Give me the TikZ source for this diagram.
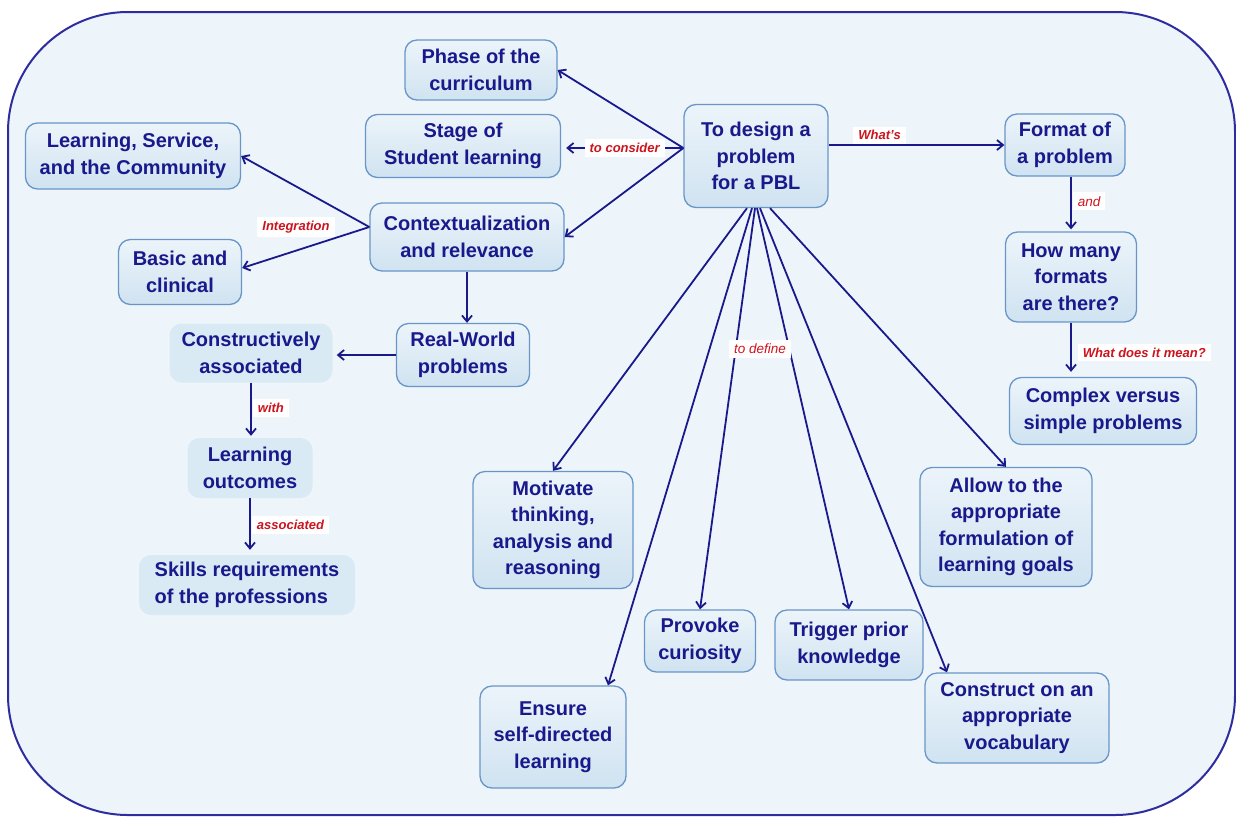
\documentclass[tikz,border=0pt]{standalone}
\usepackage{fontspec}
\setmainfont{Liberation Sans}
\usetikzlibrary{arrows.meta}

\definecolor{navy}{RGB}{25,25,140}
\definecolor{framecol}{RGB}{45,45,160}
\definecolor{bgblue}{RGB}{237,245,250}
\definecolor{boxline}{RGB}{105,150,200}
\definecolor{boxtop}{RGB}{236,244,250}
\definecolor{boxbot}{RGB}{208,227,241}
\definecolor{boxfill}{RGB}{218,234,245}
\definecolor{lblred}{RGB}{205,20,30}

\tikzset{
  boxbase/.style={rounded corners=12pt, align=center, text=navy, inner sep=2pt,
    font=\bfseries\fontsize{20}{26.5}\selectfont},
  box/.style={boxbase, draw=boxline, line width=1.3pt, top color=boxtop, bottom color=boxbot},
  flatbox/.style={boxbase, fill=boxfill},
  lbl/.style={fill=white, text=lblred, inner xsep=5pt, inner ysep=4pt,
    font=\bfseries\itshape\fontsize{13}{15}\selectfont},
  thinlbl/.style={lbl, font=\itshape\fontsize{13.5}{15}\selectfont},
  link/.style={navy, line width=1.8pt, -{Straight Barb[length=6pt,width=10pt]}},
}

\begin{document}
\begin{tikzpicture}[x=1pt,y=-1pt]
  \useasboundingbox (0,0) rectangle (1236,817);
  %frame
  \draw[framecol, line width=2pt, fill=bgblue, rounded corners=120pt] (8,12) rectangle (1235,815);

  %centre
  \node[box, minimum width=144pt, minimum height=103pt] (central) at (756,156) {To design a\\problem\\for a PBL};

  %left side
  \node[box, minimum width=152pt, minimum height=60pt] (phase) at (481,70) {Phase of the\\curriculum};
  \node[box, minimum width=195pt, minimum height=63pt] (stage) at (463,146) {Stage of\\Student learning};
  \node[box, minimum width=194pt, minimum height=68pt] (contx) at (467,237) {Contextualization\\and relevance};
  \node[box, minimum width=215pt, minimum height=66pt] (lsc) at (133,156) {Learning, Service,\\and the Community};
  \node[box, minimum width=123pt, minimum height=65pt] (basic) at (180,272) {Basic and\\clinical};
  \node[box, minimum width=133pt, minimum height=63pt] (real) at (463,355) {Real-World\\problems};
  \node[flatbox, minimum width=163pt, minimum height=59pt] (constr) at (251,353) {Constructively\\associated};
  \node[flatbox, minimum width=125pt, minimum height=60pt] (lout) at (250,468) {Learning\\outcomes};
  \node[flatbox, align=left, minimum width=216pt, minimum height=60pt] (skills) at (247,585) {Skills requirements\\of the professions};

  %right side
  \node[box, minimum width=120pt, minimum height=62pt] (format) at (1065,145) {Format of\\a problem};
  \node[box, minimum width=131pt, minimum height=90pt] (howmany) at (1071,277) {How many\\formats\\are there?};
  \node[box, minimum width=187pt, minimum height=67pt] (complex) at (1103,411) {Complex versus\\simple problems};

  %bottom
  \node[box, minimum width=160pt, minimum height=117pt] (motiv) at (553,530) {Motivate\\thinking,\\analysis and\\reasoning};
  \node[box, minimum width=146pt, minimum height=102pt] (ensure) at (553,737) {Ensure\\self-directed\\learning};
  \node[box, minimum width=111pt, minimum height=62pt] (provoke) at (700,641) {Provoke\\curiosity};
  \node[box, minimum width=148pt, minimum height=70pt] (trigger) at (849,645) {Trigger prior\\knowledge};
  \node[box, minimum width=172pt, minimum height=119pt] (allow) at (1006,527) {Allow to the\\appropriate\\formulation of\\learning goals};
  \node[box, minimum width=184pt, minimum height=90pt] (construct) at (1017,718) {Construct on an\\appropriate\\vocabulary};

  %to consider
  \coordinate (cw) at ([yshift=8pt]central.west);
  \draw[link] (cw) -- (phase.east);
  \draw[link, shorten >=5pt] (cw) -- (cw -| stage.east) node[lbl, pos=0.48] {to consider};
  \draw[link] (cw) -- (contx.east);

  %integration
  \coordinate (cx) at ([yshift=10pt]contx.west);
  \draw[link] (cx) -- (lsc.east);
  \draw[link] (cx) -- ([yshift=4pt]basic.east);
  \node[lbl] (integ) at (296,227) {Integration};

  %down the left
  \draw[link] (contx.south) -- (contx.south |- real.north);
  \draw[link, shorten >=4pt] (real.west) -- (real.west -| constr.east);
  \draw[link, shorten >=2pt] (constr.south) -- (constr.south |- lout.north)
    node[lbl, right, pos=0.46, xshift=1pt] {with};
  \draw[link, shorten >=5pt] (lout.south) -- (lout.south |- skills.north)
    node[lbl, right, pos=0.47, xshift=1pt] {associated};

  %format
  \draw[link] (format.west -| central.east) -- (format.west)
    node[lbl, above, pos=0.29] {What's};
  \draw[link, shorten >=2pt] (howmany.north |- format.south) -- (howmany.north)
    node[thinlbl, right, pos=0.45, xshift=1pt] {and};
  \draw[link, shorten >=5pt] (howmany.south) -- (howmany.south |- complex.north)
    node[lbl, right, pos=0.55, xshift=6pt] {What does it mean?};

  %to define
  \draw[link] ([xshift=-9pt]central.south) -- (motiv.north);
  \draw[link] ([xshift=-4pt]central.south) -- ([xshift=55pt]ensure.north);
  \draw[link] ([xshift=-1pt]central.south) -- (provoke.north);
  \draw[link] ([xshift=1pt]central.south) -- (trigger.north);
  \draw[link] ([xshift=4pt]central.south) -- ([xshift=-70pt]construct.north);
  \draw[link] ([xshift=14pt]central.south) -- (allow.north);
  \node[thinlbl] (define) at (760,349) {to define};
\end{tikzpicture}
\end{document}
